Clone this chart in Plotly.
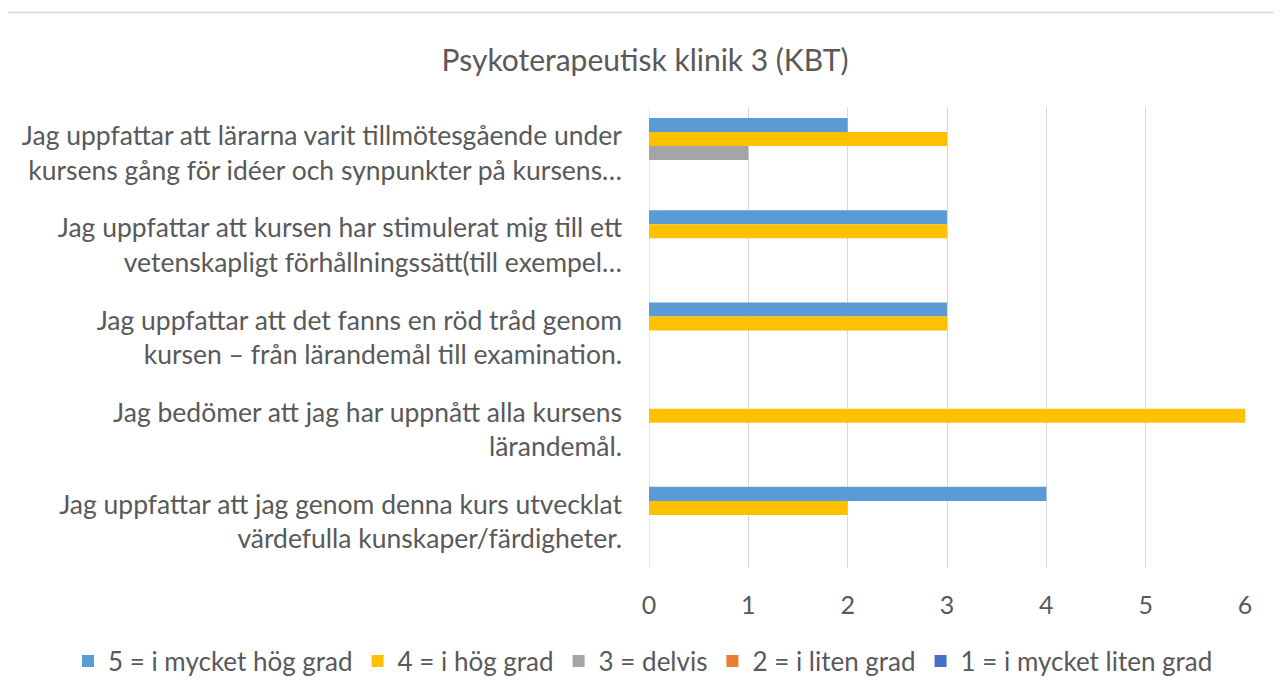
import plotly.graph_objects as go

categories = [
    "Jag uppfattar att lärarna varit tillmötesgående under<br>kursens gång för idéer och synpunkter på kursens…",
    "Jag uppfattar att kursen har stimulerat mig till ett<br>vetenskapligt förhållningssätt(till exempel…",
    "Jag uppfattar att det fanns en röd tråd genom<br>kursen – från lärandemål till examination.",
    "Jag bedömer att jag har uppnått alla kursens<br>lärandemål.",
    "Jag uppfattar att jag genom denna kurs utvecklat<br>värdefulla kunskaper/färdigheter.",
]
series_names = ["5 = i mycket hög grad", "4 = i hög grad", "3 = delvis", "2 = i liten grad", "1 = i mycket liten grad"]
v5 = [2, 3, 3, 0, 4]
v4 = [3, 3, 3, 6, 2]
v3 = [1, 0, 0, 0, 0]
v2 = [0, 0, 0, 0, 0]
v1 = [0, 0, 0, 0, 0]
values = [v5, v4, v3, v2, v1]
colors = ["#5B9BD5", "#FFC000", "#A5A5A5", "#ED7D31", "#4472C4"]
x_ticks = [0, 1, 2, 3, 4, 5, 6]

FONT = "Lato"
GREY = "#595959"
fig = go.Figure()
for name, vals, c in zip(series_names, values, colors):
    fig.add_trace(go.Bar(y=categories, x=vals, name=name, orientation="h",
                         marker=dict(color=c, line=dict(width=0))))

# page has an 8px body margin; figure coords = page coords - 8
OFF = 8
W, H = 1282 - 2 * OFF, 695 - 2 * OFF
PL, PR, PT, PB = 649, 1245, 107, 568   # plot area in page pixels
L, R, T, B = PL - OFF, W - (PR - OFF), PT - OFF, H - (PB - OFF)
pw, ph = W - L - R, H - T - B
def px(x): return (x - OFF - L) / pw
def py(y): return (H - B - (y - OFF)) / ph

fig.update_layout(
    width=W, height=H,
    margin=dict(l=L, r=R, t=T, b=B, autoexpand=False),
    paper_bgcolor="white", plot_bgcolor="white",
    barmode="group", bargap=0.24, bargroupgap=0,
    title=dict(text="Psykoterapeutisk klinik 3 (KBT)", x=(645 - OFF) / W, xanchor="center",
               xref="container", yref="container",
               y=1 - (60 - OFF) / H, yanchor="middle",
               font=dict(family=FONT, size=30, color=GREY)),
    font=dict(family=FONT, color=GREY),
    xaxis=dict(range=[0, 6], tickvals=x_ticks, showgrid=True, gridcolor="#D9D9D9", gridwidth=1,
               zeroline=False, showline=False, ticks="", ticklabelstandoff=20,
               tickfont=dict(size=25, color=GREY), fixedrange=True),
    yaxis=dict(autorange="reversed", showgrid=False, zeroline=False, showline=False, ticks="",
               ticklabelstandoff=26, tickfont=dict(size=26.5, color=GREY)),
    legend=dict(orientation="h", xref="paper", yref="paper",
                x=px(68), xanchor="left",
                y=py(661), yanchor="middle",
                font=dict(size=26, color=GREY), itemwidth=30, traceorder="normal"),
    showlegend=True,
)
fig.add_shape(type="rect", xref="paper", yref="paper",
              x0=px(7), x1=px(1281), y0=py(740), y1=py(12.5),
              line=dict(color="#D9D9D9", width=1.3), fillcolor="rgba(0,0,0,0)", layer="below")
fig.add_shape(type="line", xref="x", yref="paper", x0=0, x1=0, y0=0, y1=1,
              line=dict(color="#D9D9D9", width=1), layer="below")
fig.write_html("out.html")
